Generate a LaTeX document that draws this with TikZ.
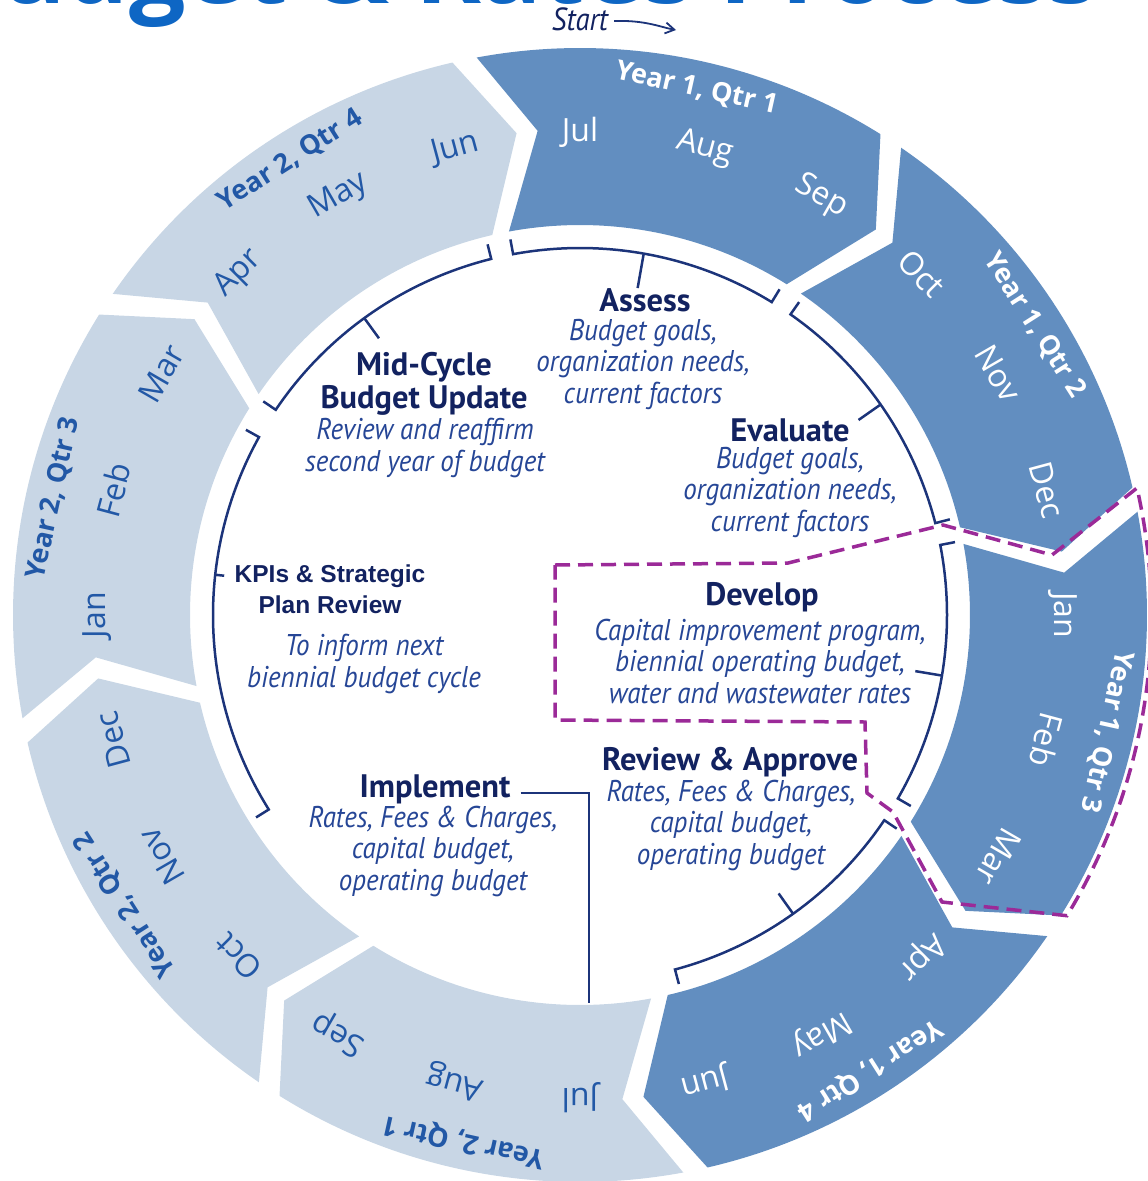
\documentclass[tikz,border=0pt]{standalone}
\usepackage{fontspec}
\setmainfont{Open Sans}
\newfontfamily\ptsans{PT Sans}
\newfontfamily\ptnarrow[FakeStretch=0.9]{PT Sans}
\newfontfamily\arialfont{Liberation Sans}
\usetikzlibrary{arrows.meta}
\definecolor{darkseg}{RGB}{98,142,192}
\definecolor{lightseg}{RGB}{200,214,229}
\definecolor{lighttext}{RGB}{34,88,166}
\definecolor{navy}{RGB}{18,34,96}
\definecolor{descblue}{RGB}{38,70,150}
\definecolor{brkcol}{RGB}{28,52,122}
\definecolor{dashcol}{RGB}{155,42,152}
\definecolor{titleblue}{RGB}{14,102,196}
\begin{document}
\begin{tikzpicture}[x=1pt,y=1pt,
  month/.style={font=\fontsize{32}{32}\selectfont, inner sep=0pt},
  yearlab/.style={font=\bfseries\fontsize{27}{27}\selectfont, inner sep=0pt},
  head/.style={font=\ptsans\bfseries\fontsize{32.5}{33}\selectfont, text=navy, align=center, inner sep=0pt},
  desc/.style={font=\ptnarrow\itshape\fontsize{30}{31.5}\selectfont, text=descblue, align=center, inner sep=0pt},
  kpi/.style={font=\arialfont\bfseries\fontsize{24.5}{31}\selectfont, text=navy, align=center, inner sep=0pt},
  brk/.style={draw=brkcol, line width=2.5pt},
  purpledash/.style={draw=dashcol, line width=3.5pt, dash pattern=on 15pt off 8pt},
]
\useasboundingbox (0,0) rectangle (1148,-1181);
\clip (0,0) rectangle (1148,-1181);

% title (cut off at top)
\node[anchor=base east, inner sep=0pt, text=titleblue, font=\bfseries\fontsize{100}{100}\selectfont] (title) at (1098,-3) {Budget \& Rates Process};

% start marker
\node[font=\ptnarrow\itshape\fontsize{32}{32}\selectfont, text=navy, inner sep=0pt] (start) at (580,-19) {Start};
\coordinate (startarr) at (676,-30);
\draw[draw=brkcol, line width=1.8pt, -{Straight Barb[length=9pt,width=11pt]}] ([xshift=6pt,yshift=-2pt]start.east) .. controls (645,-20) and (660,-27) .. (startarr);

\begin{scope}[shift={(580,-615)}]
  % ring segments
  \foreach \k in {0,...,7} {
    \pgfmathsetmacro\s{100.5-45*\k}
    \pgfmathsetmacro\e{58-45*\k}
    \pgfmathsetmacro\sn{\s-5.5}
    \pgfmathsetmacro\et{\e-5.5}
    \pgfmathtruncatemacro\isdark{\k<4 ? 1 : 0}
    \ifnum\isdark=1
      \fill[darkseg] (\s:567) arc[start angle=\s, end angle=\e, radius=567] -- (\et:486) -- (\e:390) arc[start angle=\e, end angle=\s, radius=390] -- (\sn:486) -- cycle;
    \else
      \fill[lightseg] (\s:567) arc[start angle=\s, end angle=\e, radius=567] -- (\et:486) -- (\e:390) arc[start angle=\e, end angle=\s, radius=390] -- (\sn:486) -- cycle;
    \fi
  }
  % months
  \foreach \name [count=\i from 0] in {Jul,Aug,Sep,Oct,Nov,Dec,Jan,Feb,Mar,Apr,May,Jun} {
    \pgfmathsetmacro\a{90-15*\i}
    \pgfmathsetmacro\ra{\a-90}
    \pgfmathsetmacro\b{\a-180}
    \pgfmathsetmacro\rb{\a-270}
    \node[month, text=white, rotate=\ra] (ma\i) at (\a:483) {\name};
    \node[month, text=lighttext, rotate=\rb] (mb\i) at (\b:483) {\name};
  }
  % year / quarter labels
  \foreach \q/\lbl in {0/{Year 1, Qtr 1},1/{Year 1, Qtr 2},2/{Year 1, Qtr 3},3/{Year 1, Qtr 4},4/{Year 2, Qtr 1},5/{Year 2, Qtr 2},6/{Year 2, Qtr 3},7/{Year 2, Qtr 4}} {
    \pgfmathsetmacro\a{77.5-45*\q}
    \pgfmathsetmacro\ra{\a-90}
    \pgfmathtruncatemacro\isdark{\q<4 ? 1 : 0}
    \ifnum\isdark=1
      \node[yearlab, text=white, rotate=\ra] (yq\q) at (\a:539) {\lbl};
    \else
      \node[yearlab, text=lighttext, rotate=\ra] (yq\q) at (\a:539) {\lbl};
    \fi
  }
  % brackets: end ticks outward, middle tick inward
  \foreach \s/\e/\m/\t in {100.5/58.5/80/332, 55/14.5/35/340, 11/-30/-9.5/340, -34/-75/-54.5/342, 104/146/126/342, 151/212/173.7/358} {
    \draw[brk] (\s:382) -- (\s:367) arc[start angle=\s, end angle=\e, radius=367] -- (\e:382);
    \draw[brk] (\m:367) -- (\m:\t);
  }
\end{scope}

% dashed outline around Develop / Year 1 Qtr 3
\draw[purpledash] (555,-565) -- (788,-563) -- (943,-525) -- (1052,-555) -- (1137,-488)
  arc[start angle=12.8, end angle=-31.4, radius=576] -- (942,-902) -- (893,-812) -- (867,-793) -- (865,-722) -- (555,-720) -- cycle;

% center texts
\node[head] (assessh) at (645,-300) {Assess};
\node[desc] (assessd) at (643,-364) {Budget goals,\\organization needs,\\current factors};

\node[head] (midh) at (424,-384) {Mid-Cycle\\Budget Update};
\node[desc] (midd) at (425,-448) {Review and reaffirm\\second year of budget};

\node[head] (evalh) at (790,-430) {Evaluate};
\node[desc] (evald) at (790,-492) {Budget goals,\\organization needs,\\current factors};

\node[kpi] (kpih) at (330,-589) {KPIs \& Strategic\\Plan Review};
\node[desc] (kpid) at (364,-664) {To inform next\\biennial budget cycle};

\node[head] (devh) at (762,-597) {Develop};
\node[desc] (devd) at (760,-661) {Capital improvement program,\\biennial operating budget,\\water and wastewater rates};

\node[head] (revh) at (730,-762) {Review \& Approve};
\node[desc] (revd) at (731,-825) {Rates, Fees \& Charges,\\capital budget,\\operating budget};

\node[head] (implh) at (435,-789) {Implement};
\node[desc] (impld) at (433,-851) {Rates, Fees \& Charges,\\capital budget,\\operating budget};

\coordinate (implend) at (589,-1003);
\draw[brk] ([xshift=10pt,yshift=-4pt]implh.east) -| (implend);
\end{tikzpicture}
\end{document}
